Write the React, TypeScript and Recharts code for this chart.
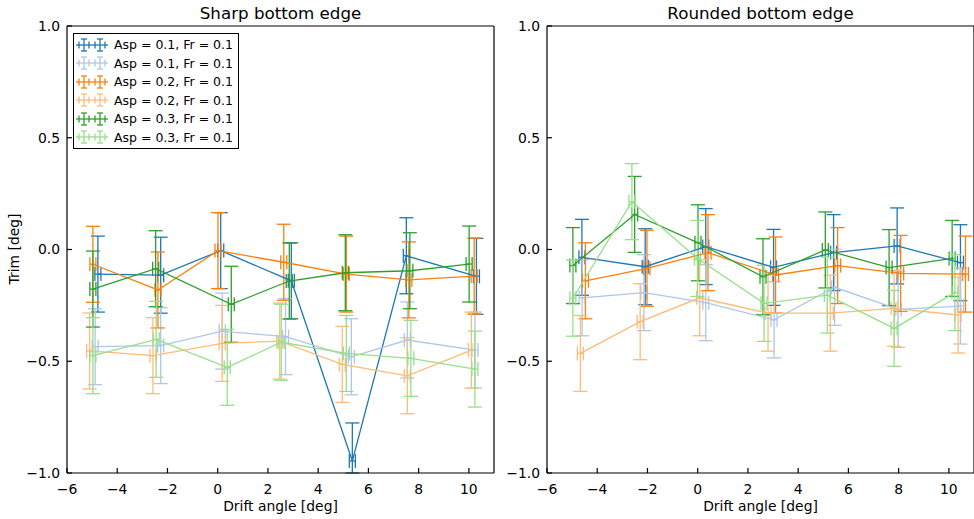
import React from "react";
import { ScatterChart, Scatter, XAxis, YAxis, ErrorBar, Legend } from "recharts";

const driftTicks = [-6, -4, -2, 0, 2, 4, 6, 8, 10];
const trimTicks = [-1, -0.5, 0, 0.5, 1];

const seriesColors = ["#1f77b4", "#aec7e8", "#ff7f0e", "#ffbb78", "#2ca02c", "#98df8a"];
const legendLabels = [
  "Asp = 0.1, Fr = 0.1",
  "Asp = 0.1, Fr = 0.1",
  "Asp = 0.2, Fr = 0.1",
  "Asp = 0.2, Fr = 0.1",
  "Asp = 0.3, Fr = 0.1",
  "Asp = 0.3, Fr = 0.1",
];

// errors are the same for every point
const TRIM_ERR = 0.17;
const DRIFT_ERR = 0.12;
const TRIM_MIN = -1;

// sharp bottom edge
const sharpBlueX = [-4.77, -2.27, 0.12, 2.93, 5.36, 7.51, 10.3];
const sharpBlueY = [-0.11, -0.115, -0.005, -0.14, -0.946, -0.028, -0.12];
const sharpLightBlueX = [-4.88, -2.27, 0.18, 2.7, 5.32, 7.55, 10.24];
const sharpLightBlueY = [-0.435, -0.43, -0.365, -0.39, -0.48, -0.405, -0.45];
const sharpOrangeX = [-4.97, -2.38, 0.01, 2.63, 5.12, 7.61, 10.21];
const sharpOrangeY = [-0.066, -0.181, -0.005, -0.057, -0.11, -0.136, -0.119];
const sharpLightOrangeX = [-5.1, -2.58, 0.18, 2.47, 4.96, 7.55, 10.1];
const sharpLightOrangeY = [-0.454, -0.475, -0.42, -0.41, -0.514, -0.565, -0.45];
const sharpGreenX = [-4.97, -2.47, 0.54, 2.85, 5.08, 7.65, 10.01];
const sharpGreenY = [-0.177, -0.086, -0.245, -0.141, -0.104, -0.095, -0.065];
const sharpLightGreenX = [-4.97, -2.45, 0.38, 2.53, 5.12, 7.69, 10.24];
const sharpLightGreenY = [-0.475, -0.402, -0.527, -0.415, -0.465, -0.487, -0.535];

// rounded bottom edge
const roundBlueX = [-4.61, -2.09, 0.32, 3.02, 5.41, 7.94, 10.46];
const roundBlueY = [-0.035, -0.077, 0.013, -0.08, -0.014, 0.016, -0.059];
const roundLightBlueX = [-4.6, -2.14, 0.32, 3.04, 5.45, 7.98, 10.46];
const roundLightBlueY = [-0.216, -0.193, -0.238, -0.315, -0.169, -0.268, -0.253];
const roundOrangeX = [-4.47, -2.02, 0.41, 3.1, 5.57, 8.08, 10.66];
const roundOrangeY = [-0.14, -0.084, -0.014, -0.114, -0.072, -0.107, -0.11];
const roundLightOrangeX = [-4.67, -2.29, 0.08, 2.8, 5.28, 7.82, 10.37];
const roundLightOrangeY = [-0.465, -0.323, -0.216, -0.285, -0.285, -0.263, -0.293];
const roundGreenX = [-4.97, -2.51, 0.01, 2.6, 5.08, 7.62, 10.13];
const roundGreenY = [-0.072, 0.157, 0.03, -0.122, -0.002, -0.081, -0.04];
const roundLightGreenX = [-4.97, -2.62, -0.01, 2.64, 5.16, 7.82, 10.24];
const roundLightGreenY = [-0.218, 0.214, -0.04, -0.241, -0.204, -0.353, -0.193];

type Row = { x: number; y: number; ex: number; ey: [number, number] };

// lower error is cut at the axis floor, like the clipped bar in the original
const toRows = (xs: number[], ys: number[]): Row[] =>
  xs.map((x, i) => ({
    x,
    y: ys[i],
    ex: DRIFT_ERR,
    ey: [Math.min(TRIM_ERR, ys[i] - TRIM_MIN), TRIM_ERR],
  }));

const sharpSeries = [
  toRows(sharpBlueX, sharpBlueY),
  toRows(sharpLightBlueX, sharpLightBlueY),
  toRows(sharpOrangeX, sharpOrangeY),
  toRows(sharpLightOrangeX, sharpLightOrangeY),
  toRows(sharpGreenX, sharpGreenY),
  toRows(sharpLightGreenX, sharpLightGreenY),
];

const roundSeries = [
  toRows(roundBlueX, roundBlueY),
  toRows(roundLightBlueX, roundLightBlueY),
  toRows(roundOrangeX, roundOrangeY),
  toRows(roundLightOrangeX, roundLightOrangeY),
  toRows(roundGreenX, roundGreenY),
  toRows(roundLightGreenX, roundLightGreenY),
];

const FONT = "'DejaVu Sans', sans-serif";
const tickStyle = { fill: "#000", fontSize: 13.9 };
const minus = (v: number) => (v < 0 ? "\u2212" : "");
const fmtDrift = (v: number) => minus(v) + Math.abs(v);
const fmtTrim = (v: number) => minus(v) + Math.abs(v).toFixed(1);
const NoDot = () => <g />;

const ErrorbarIcon = ({ color }: { color: string }) => (
  <svg width={32} height={16} style={{ display: "block" }}>
    <g stroke={color} strokeWidth={1.3}>
      <line x1={0} y1={8} x2={32} y2={8} />
      {[8, 24].map((p) => (
        <g key={p}>
          <line x1={p} y1={2} x2={p} y2={14} />
          <line x1={p - 3} y1={2} x2={p + 3} y2={2} />
          <line x1={p - 3} y1={14} x2={p + 3} y2={14} />
          <line x1={p - 5} y1={4.5} x2={p - 5} y2={11.5} />
          <line x1={p + 5} y1={4.5} x2={p + 5} y2={11.5} />
        </g>
      ))}
    </g>
  </svg>
);

const LegendBox = () => (
  <div
    style={{
      border: "1px solid #000",
      background: "#fff",
      padding: "1.5px 5px 1.5px 2px",
      fontFamily: FONT,
      fontSize: 12.5,
      color: "#000",
    }}
  >
    {legendLabels.map((label, i) => (
      <div key={i} style={{ display: "flex", alignItems: "center", height: 18.5 }}>
        <ErrorbarIcon color={seriesColors[i]} />
        <span style={{ marginLeft: 6, whiteSpace: "nowrap" }}>{label}</span>
      </div>
    ))}
  </div>
);

function Panel({
  series,
  left,
  title,
  showLegend,
}: {
  series: Row[][];
  left: number;
  title: string;
  showLegend?: boolean;
}) {
  return (
    <div style={{ position: "absolute", left, top: 0, width: 500, height: 519 }}>
      <div
        style={{
          position: "absolute",
          left: 280.5,
          top: 13,
          transform: "translate(-50%, -50%)",
          fontSize: 16.7,
          lineHeight: 1,
          whiteSpace: "nowrap",
        }}
      >
        {title}
      </div>
      <ScatterChart width={500} height={519} margin={{ top: 25, right: 5, bottom: 6, left: 7 }}>
        <XAxis
          dataKey="x"
          type="number"
          domain={[-6, 11]}
          ticks={driftTicks}
          allowDataOverflow
          tickFormatter={fmtDrift}
          tick={tickStyle}
          tickSize={-5}
          tickMargin={16}
          height={40}
          stroke="#000"
          strokeWidth={1.2}
          label={{ value: "Drift angle [deg]", position: "insideBottom", offset: 2, fill: "#000", fontSize: 13.9 }}
        />
        <XAxis
          xAxisId="top"
          orientation="top"
          type="number"
          domain={[-6, 11]}
          ticks={driftTicks}
          tick={false}
          tickSize={-5}
          height={1}
          stroke="#000"
          strokeWidth={1.2}
        />
        <YAxis
          dataKey="y"
          type="number"
          domain={[-1, 1]}
          ticks={trimTicks}
          allowDataOverflow
          tickFormatter={fmtTrim}
          tick={tickStyle}
          tickSize={-5}
          tickMargin={12}
          width={60}
          stroke="#000"
          strokeWidth={1.2}
        />
        <YAxis
          yAxisId="right"
          orientation="right"
          type="number"
          domain={[-1, 1]}
          ticks={trimTicks}
          tick={false}
          tickSize={-5}
          width={1}
          stroke="#000"
          strokeWidth={1.2}
        />
        {series.map((rows, i) => (
          <Scatter
            key={i}
            data={rows}
            fill={seriesColors[i]}
            line={{ strokeWidth: 1.3 }}
            shape={NoDot}
            isAnimationActive={false}
          >
            <ErrorBar dataKey="ey" direction="y" width={7} stroke={seriesColors[i]} strokeWidth={1.3} isAnimationActive={false} />
            <ErrorBar dataKey="ex" direction="x" width={7} stroke={seriesColors[i]} strokeWidth={1.3} isAnimationActive={false} />
          </Scatter>
        ))}
        {showLegend && (
          <Legend
            layout="horizontal"
            verticalAlign="middle"
            align="center"
            content={() => <LegendBox />}
            wrapperStyle={{ left: 73, top: 33, width: "auto", height: "auto" }}
          />
        )}
      </ScatterChart>
    </div>
  );
}

export default function App() {
  return (
    <div
      style={{
        position: "absolute",
        left: 0,
        top: 0,
        width: 974,
        height: 519,
        overflow: "hidden",
        background: "#fff",
        fontFamily: FONT,
        color: "#000",
      }}
    >
      <Panel series={roundSeries} left={480} title="Rounded bottom edge" />
      <Panel series={sharpSeries} left={0} title="Sharp bottom edge" showLegend />
      <div
        style={{
          position: "absolute",
          left: 15,
          top: 249,
          transform: "translate(-50%, -50%) rotate(-90deg)",
          fontSize: 13.9,
          lineHeight: 1,
          whiteSpace: "nowrap",
        }}
      >
        Trim [deg]
      </div>
    </div>
  );
}
